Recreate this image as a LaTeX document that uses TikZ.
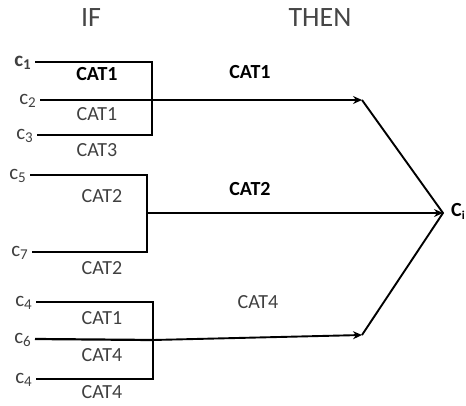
\documentclass[tikz,border=0pt]{standalone}
\usepackage{fontspec}
\setmainfont{Carlito}
\usetikzlibrary{arrows.meta,positioning}

\definecolor{CatGrey}{RGB}{64,64,64}
\definecolor{HeadGrey}{RGB}{70,70,70}

% condition label c_k
\newcommand{\cond}[1]{c\raisebox{-3pt}{\fontsize{15}{15}\selectfont #1}}

\begin{document}
\begin{tikzpicture}[x=1pt,y=-1pt,
    every node/.style={inner sep=0pt},
    wire/.style={line width=2.2pt},
    flow/.style={line width=1.9pt,-{Stealth[length=9pt,width=8pt,inset=3pt]}},
    merge/.style={line width=1.9pt,line join=miter},
    cat/.style={font=\fontsize{20}{22}\selectfont,text=CatGrey},
    catb/.style={font=\fontsize{20}{22}\selectfont\bfseries},
    clab/.style={font=\fontsize{21}{22}\selectfont,text=CatGrey,anchor=base east}]
  \useasboundingbox (0,0) rectangle (466,405);

  \node[font=\fontsize{28}{30}\selectfont,text=HeadGrey] (hif) at (91,18) {IF};
  \node[font=\fontsize{28}{30}\selectfont,text=HeadGrey] (hthen) at (320,18) {THEN};

  % input conditions: name/y/start/label
  \foreach \n/\y/\xa/\t in {
      a/62/35/{\textbf{\cond{1}}},
      b/100/40/{\cond{2}},
      c/135/37/{\cond{3}},
      d/175/30/{\cond{5}},
      e/252/32/{\cond{7}},
      f/302/36/{\cond{4}},
      g/339/35/{\cond{6}},
      h/379/36/{\cond{4}}}{
    \coordinate (in\n) at (\xa,\y);
    \node[clab] (lab\n) at (\xa-4,\y+4) {\t};
  }

  % bracket corners
  \coordinate (ka) at (152,62);
  \coordinate (kc) at (152,135);
  \coordinate (kd) at (147,175);
  \coordinate (ke) at (147,252);
  \coordinate (kf) at (153,302);
  \coordinate (kh) at (153,379);
  \coordinate (kb) at (152,100);
  \coordinate (km) at (147,213);
  \coordinate (kg) at (153,340);

  % arrow ends and result
  \coordinate (t1) at (362,100);
  \coordinate (t3) at (362,335);
  \coordinate (ci) at (443,213);
  \node[font=\fontsize{20}{22}\selectfont\bfseries,anchor=west] (cres) at (451,211)
    {C\raisebox{-3pt}{\fontsize{12}{12}\selectfont i}};

  % rule 1
  \draw[wire] (ina) -- (ka) -- (kc) -- (inc);
  \draw[flow] (inb) -- (t1);
  % rule 2
  \draw[wire] (ind) -- (kd) -- (ke) -- (ine);
  \draw[flow] (km) -- (ci);
  % rule 3
  \draw[wire] (inf) -- (kf) -- (kh) -- (inh);
  \draw[wire] (ing) -- (kg);
  \draw[flow] (kg) -- (t3);
  % merging into the result
  \draw[merge] (t1) -- (ci) -- (t3);

  % categories under each input
  \node[catb] (ca) at (97,74) {CAT1};
  \node[cat] (cb) at (97,114) {CAT1};
  \node[cat] (cc) at (97,150) {CAT3};
  \node[cat] (cd) at (102,196) {CAT2};
  \node[cat] (ce) at (102,268) {CAT2};
  \node[cat] (cf) at (102,318) {CAT1};
  \node[cat] (cg) at (102,355) {CAT4};
  \node[cat] (ch) at (102,392) {CAT4};

  % categories of each rule
  \node[catb] (r1) at (250,72) {CAT1};
  \node[catb] (r2) at (250,189) {CAT2};
  \node[cat] (r3) at (258,302) {CAT4};
\end{tikzpicture}
\end{document}
